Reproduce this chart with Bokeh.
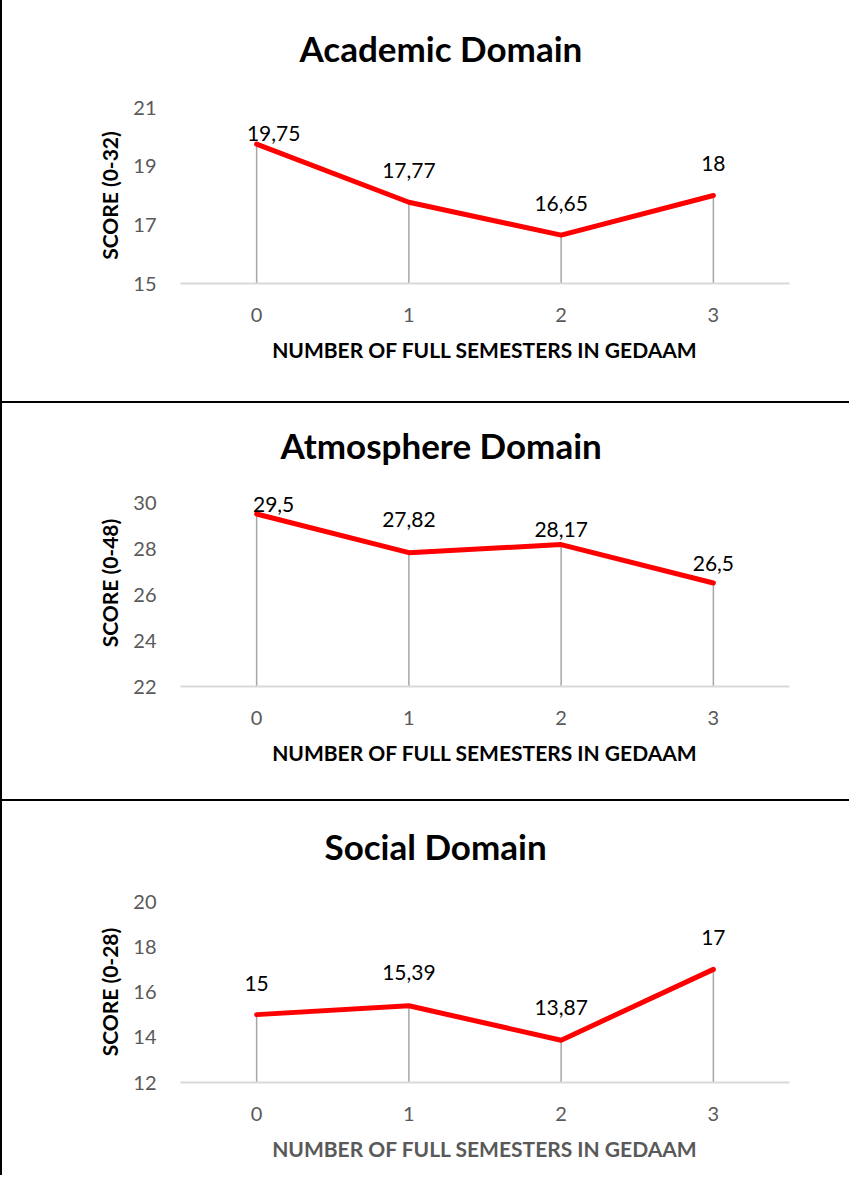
from bokeh.plotting import figure
from bokeh.layouts import column
from bokeh.models import Range1d, FixedTicker, ColumnDataSource, LabelSet, Title
from bokeh.core.properties import value
from bokeh.embed import file_html
from bokeh.resources import INLINE

# ---------------- data ----------------
semesters = [0, 1, 2, 3]
semester_labels = ["0", "1", "2", "3"]

academic_scores = [19.75, 17.77, 16.65, 18]
atmosphere_scores = [29.5, 27.82, 28.17, 26.5]
social_scores = [15, 15.39, 13.87, 17]

academic_ticks = [15, 17, 19, 21]
atmosphere_ticks = [22, 24, 26, 28, 30]
social_ticks = [12, 14, 16, 18, 20]

titles = ["Academic Domain", "Atmosphere Domain", "Social Domain"]
y_titles = ["SCORE (0-32)", "SCORE (0-48)", "SCORE (0-28)"]
x_title = "NUMBER OF FULL SEMESTERS IN GEDAAM"

# ---------------- layout / style ----------------
W = 849
FONT = "Lato"
TICK_COLOR = "#595959"

# per panel: figure height, frame (left, right, top, bottom) in canvas px,
# extra headroom above the top tick (axis units, room for labels),
# title offset, gap (spacer standoff) between plot area and title,
# data-label nudges (dx right, dy up) in px, x-title colour, top border
panels = [
    dict(title=titles[0], ytitle=y_titles[0], scores=academic_scores, ticks=academic_ticks,
         height=401, frame=(178, 790, 107, 283), headroom=0, title_off=119, title_gap=26,
         nudges=[(17, 11), (0, 32), (0, 32), (0, 32)], xcolor="black", border_top=False),
    dict(title=titles[1], ytitle=y_titles[1], scores=atmosphere_scores, ticks=atmosphere_ticks,
         height=398, frame=(161, 808, 76, 283), headroom=1, title_off=100, title_gap=1,
         nudges=[(17, 10), (0, 33), (0, 15), (0, 20)], xcolor="black", border_top=True),
    dict(title=titles[2], ytitle=y_titles[2], scores=social_scores, ticks=social_ticks,
         height=376, frame=(171, 787, 100, 281), headroom=0, title_off=144, title_gap=22,
         nudges=[(0, 31), (0, 33), (0, 33), (0, 32)], xcolor=TICK_COLOR, border_top=True),
]


def fmt(v):
    return f"{v:g}".replace(".", ",")


def make_panel(cfg):
    left, right, top, bottom = cfg["frame"]
    h = cfg["height"]
    ticks = cfg["ticks"]
    styles = {"border-left": "2px solid black"}
    if cfg["border_top"]:
        styles["border-top"] = "2px solid black"
    p = figure(width=W, height=h, output_backend="svg", toolbar_location=None,
               x_range=Range1d(-0.5, 3.5),
               y_range=Range1d(ticks[0], ticks[-1] + cfg["headroom"]),
               min_border_left=left, min_border_right=W - right,
               min_border_top=top, min_border_bottom=h - bottom,
               background_fill_color="white", border_fill_color="white",
               outline_line_color=None, styles=styles)
    p.grid.visible = False

    # spacer between plot area and title
    p.add_layout(Title(text=" ", text_font_size="10px", standoff=cfg["title_gap"]), "above")

    # chart title
    p.title.text = cfg["title"]
    p.title.align = "left"
    p.title.offset = cfg["title_off"]
    p.title.standoff = 0
    p.title.text_font = FONT
    p.title.text_font_size = "35px"
    p.title.text_font_style = "bold"
    p.title.text_color = "black"

    # x axis
    xa = p.xaxis[0]
    xa.ticker = FixedTicker(ticks=semesters)
    xa.major_label_overrides = {s: lab for s, lab in zip(semesters, semester_labels)}
    xa.axis_line_color = "#d9d9d9"
    xa.axis_line_width = 2
    xa.major_tick_line_color = None
    xa.minor_tick_line_color = None
    xa.major_label_standoff = 18
    xa.major_label_text_font = FONT
    xa.major_label_text_font_size = "20px"
    xa.major_label_text_color = TICK_COLOR
    xa.axis_label = x_title
    xa.axis_label_text_font = FONT
    xa.axis_label_text_font_size = "21px"
    xa.axis_label_text_font_style = "bold"
    xa.axis_label_text_color = cfg["xcolor"]
    xa.axis_label_standoff = 12

    # y axis
    ya = p.yaxis[0]
    ya.ticker = FixedTicker(ticks=ticks)
    ya.axis_line_color = None
    ya.major_tick_line_color = None
    ya.minor_tick_line_color = None
    ya.major_label_standoff = 18
    ya.major_label_text_font = FONT
    ya.major_label_text_font_size = "20px"
    ya.major_label_text_color = TICK_COLOR
    ya.axis_label = cfg["ytitle"]
    ya.axis_label_text_font = FONT
    ya.axis_label_text_font_size = "21px"
    ya.axis_label_text_font_style = "bold"
    ya.axis_label_text_color = "black"
    ya.axis_label_standoff = 8

    scores = cfg["scores"]
    src = ColumnDataSource(dict(
        x=semesters, y=scores, base=[ticks[0]] * len(semesters),
        label=[fmt(v) for v in scores],
        dx=[n[0] for n in cfg["nudges"]], dy=[n[1] for n in cfg["nudges"]],
    ))
    # drop lines
    p.segment(x0="x", y0="base", x1="x", y1="y", source=src,
              line_color="#a6a6a6", line_width=1.5)
    # main line
    p.line(x="x", y="y", source=src, line_color="#ff0000", line_width=5,
           line_cap="round", line_join="round")
    # data labels
    p.add_layout(LabelSet(x="x", y="y", text="label", source=src,
                          x_offset="dx", y_offset="dy",
                          text_align="center", text_baseline="middle",
                          text_font=value(FONT), text_font_size=value("21px"),
                          text_color="black"))
    return p


figs = [make_panel(c) for c in panels]
layout = column(*figs, spacing=0)

open("out.html", "w").write(file_html(layout, INLINE))
